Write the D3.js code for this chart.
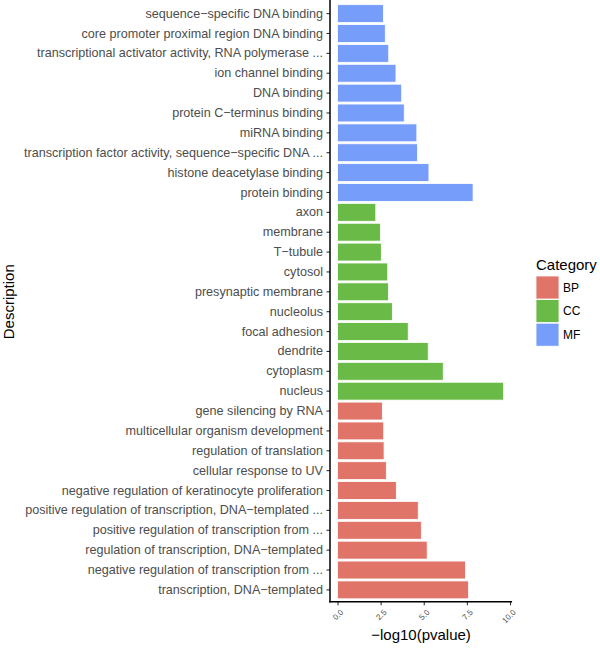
<!DOCTYPE html>
<html><head><meta charset="utf-8">
<script src="https://cdn.jsdelivr.net/npm/d3@7"></script>
<style>body{margin:0;background:#fff}svg{display:block}</style>
</head><body>
<svg id="c" width="600" height="650"></svg>
<script>
// Terms listed top to bottom
const mfTerms = ["sequence\u2212specific DNA binding","core promoter proximal region DNA binding","transcriptional activator activity, RNA polymerase ...","ion channel binding","DNA binding","protein C\u2212terminus binding","miRNA binding","transcription factor activity, sequence\u2212specific DNA ...","histone deacetylase binding","protein binding"];
const mfValues = [2.66,2.77,2.97,3.39,3.72,3.87,4.60,4.64,5.30,7.86];
const ccTerms = ["axon","membrane","T\u2212tubule","cytosol","presynaptic membrane","nucleolus","focal adhesion","dendrite","cytoplasm","nucleus"];
const ccValues = [2.22,2.49,2.54,2.91,2.95,3.18,4.10,5.26,6.13,9.63];
const bpTerms = ["gene silencing by RNA","multicellular organism development","regulation of translation","cellular response to UV","negative regulation of keratinocyte proliferation","positive regulation of transcription, DNA\u2212templated ...","positive regulation of transcription from ...","regulation of transcription, DNA\u2212templated","negative regulation of transcription from ...","transcription, DNA\u2212templated"];
const bpValues = [2.60,2.68,2.70,2.83,3.41,4.68,4.86,5.20,7.42,7.60];
const categories = ["BP","CC","MF"];
const categoryColors = ["#E07469","#69BA46","#779DFB"];
const xTicks = [0,2.5,5,7.5,10];
const xTickLabels = ["0.0","2.5","5.0","7.5","10.0"];

const rows = [];
mfTerms.forEach((t,i)=>rows.push({term:t,value:mfValues[i],cat:"MF"}));
ccTerms.forEach((t,i)=>rows.push({term:t,value:ccValues[i],cat:"CC"}));
bpTerms.forEach((t,i)=>rows.push({term:t,value:bpValues[i],cat:"BP"}));

const svg = d3.select("#c");
const panelLeft = 330, panelTop = 1.7, panelBottom = 601.8;
const x = d3.scaleLinear().domain([0,10]).range([337.5,510]);
const y = d3.scaleBand().domain(rows.map(r=>r.term)).range([panelTop,panelBottom]).paddingInner(0.1).paddingOuter(0.15);
const color = d3.scaleOrdinal().domain(categories).range(categoryColors);
const panelRight = x(10.12);

svg.append("g").selectAll("rect").data(rows).join("rect")
  .attr("x", x(0)).attr("y", d=>y(d.term))
  .attr("width", d=>x(d.value)-x(0)).attr("height", y.bandwidth())
  .attr("fill", d=>color(d.cat)).attr("stroke","#fff").attr("stroke-width",0.8);

// Y axis
const yAxis = svg.append("g").attr("transform",`translate(${panelLeft},0)`)
  .call(d3.axisLeft(y).tickSize(3.5).tickPadding(3.5));
yAxis.select(".domain").remove();
yAxis.selectAll(".tick line").attr("stroke","#333").attr("stroke-width",1.1);
yAxis.selectAll(".tick text").attr("fill","#4d4d4d").style("font-family","'Liberation Sans', Arial, sans-serif").style("font-size","12.6px");
svg.append("line").attr("x1",panelLeft).attr("x2",panelLeft).attr("y1",0).attr("y2",panelBottom+0.7).attr("stroke","#000").attr("stroke-width",1.5);

// X axis
const xAxis = svg.append("g").attr("transform",`translate(0,${panelBottom})`)
  .call(d3.axisBottom(x).tickValues(xTicks).tickFormat((d,i)=>xTickLabels[i]).tickSize(3.5));
xAxis.select(".domain").remove();
xAxis.selectAll(".tick line").attr("stroke","#333").attr("stroke-width",1.1);
xAxis.selectAll(".tick text").attr("fill","#4d4d4d").style("font-family","'Liberation Sans', Arial, sans-serif").style("font-size","8px")
  .attr("text-anchor","end").attr("dy",null).attr("y",0)
  .attr("transform","translate(2,7) rotate(-45)")
  .attr("dominant-baseline","hanging");
svg.append("line").attr("x1",panelLeft-0.7).attr("x2",panelRight).attr("y1",panelBottom).attr("y2",panelBottom).attr("stroke","#000").attr("stroke-width",1.5);

// Axis titles
svg.append("text").attr("x",(panelLeft+panelRight)/2).attr("y",640).attr("text-anchor","middle")
  .style("font-family","'Liberation Sans', Arial, sans-serif").style("font-size","15px").attr("fill","#000").text("\u2212log10(pvalue)");
svg.append("text").attr("transform",`translate(14,${(panelTop+panelBottom)/2}) rotate(-90)`).attr("text-anchor","middle")
  .style("font-family","'Liberation Sans', Arial, sans-serif").style("font-size","15px").attr("fill","#000").text("Description");

// Legend
const lg = svg.append("g");
lg.append("text").attr("x",536).attr("y",270).style("font-family","'Liberation Sans', Arial, sans-serif").style("font-size","15px").attr("fill","#000").text("Category");
categories.forEach((c,i)=>{
  const yy = 276 + i*23.6;
  lg.append("rect").attr("x",536).attr("y",yy).attr("width",23).attr("height",23).attr("fill",color(c)).attr("stroke","#fff").attr("stroke-width",0.8);
  lg.append("text").attr("x",563).attr("y",yy+11.5).attr("dy","0.35em").style("font-family","'Liberation Sans', Arial, sans-serif").style("font-size","12px").attr("fill","#000").text(c);
});
</script>
</body></html>
